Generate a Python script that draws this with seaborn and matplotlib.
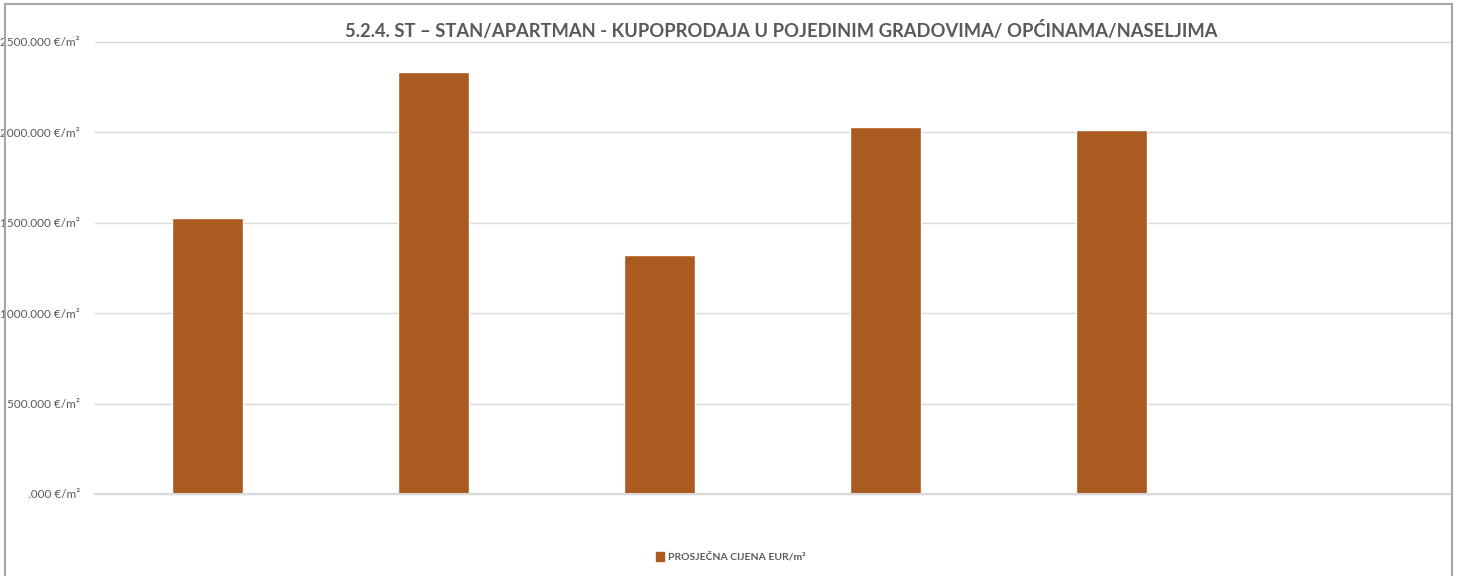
import matplotlib
matplotlib.use("Agg")
import matplotlib.pyplot as plt
import matplotlib.patches as mpatches
from matplotlib.ticker import FuncFormatter
import pandas as pd
import seaborn as sns

# podaci
gradovi = ["Grad 1", "Grad 2", "Grad 3", "Grad 4", "Grad 5", "Grad 6"]
cijene = [1526, 2334, 1322, 2030, 2013, None]
naslov = "5.2.4. ST \u2013 STAN/APARTMAN - KUPOPRODAJA U POJEDINIM GRADOVIMA/ OPĆINAMA/NASELJIMA"
legenda = "PROSJEČNA CIJENA EUR/m²"
boja = "#AB5A20"

df = pd.DataFrame({"grad": gradovi, "cijena": cijene})

sns.set_theme(style="white")
plt.rcParams["font.family"] = ["Lato", "DejaVu Sans"]

fig = plt.figure(figsize=(14.59, 5.76), dpi=100)
ax = fig.add_axes([95 / 1459, 82 / 576, 1355 / 1459, 452 / 576])

sns.barplot(data=df, x="grad", y="cijena", order=gradovi, color=boja,
            width=0.315, saturation=1, ax=ax, label=legenda)

ax.set_ylim(0, 2500)
ax.set_xlim(-0.5, len(gradovi) - 0.5)
ax.set_yticks([0, 500, 1000, 1500, 2000, 2500])


def fmt(v, pos):
    if v == 0:
        return ".000 €/m²"
    return f"{v:.3f} €/m²"


ax.yaxis.set_major_formatter(FuncFormatter(fmt))
ax.tick_params(axis="y", labelsize=8.5, labelcolor="#595959", length=0, pad=11)
ax.set_xticklabels([])
ax.tick_params(axis="x", length=0)
ax.set_xlabel("")
ax.set_ylabel("")
ax.grid(axis="y", color="#d9d9d9", linewidth=1.0)
for gl in ax.get_ygridlines():
    gl.set_clip_on(False)
ax.axhline(0, color="#d9d9d9", linewidth=1.5, clip_on=False, zorder=3)
ax.set_axisbelow(True)
for s in ax.spines.values():
    s.set_visible(False)

fig.text(781 / 1459, 1 - 30 / 576, naslov, ha="center", va="center",
         fontsize=13.2, fontweight="bold", color="#595959")

ax.legend(handles=[mpatches.Patch(color=boja, label=legenda)],
          loc="center", bbox_to_anchor=(731 / 1459, 1 - 557 / 576),
          bbox_transform=fig.transFigure, frameon=False,
          prop={"size": 7.5, "weight": "bold"},
          handlelength=0.7, handleheight=0.9, handletextpad=0.4,
          labelcolor="#595959")

# okvir
fig.add_artist(mpatches.Rectangle((5 / 1459, -0.01), 1447 / 1459, 1 - 4 / 576 + 0.01,
                                  transform=fig.transFigure, fill=False,
                                  edgecolor="#a6a6a6", linewidth=1.5))

fig.savefig("out.png", dpi=100)
